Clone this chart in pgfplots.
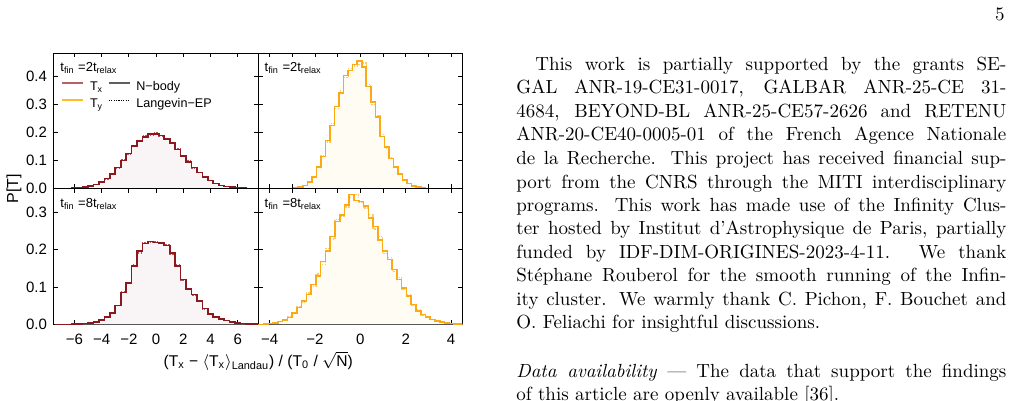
\documentclass[border=0pt]{standalone}
\usepackage{fontspec}
\usepackage{pgfplots}
\usepackage{pgfplotstable}
\pgfplotsset{compat=1.18}
\newfontfamily\hv{Liberation Sans}

% line and fill colours of the two components
\definecolor{txline}{RGB}{139,24,28}
\definecolor{txdot}{RGB}{185,80,85}
\definecolor{txfill}{RGB}{249,245,247}
\definecolor{tyline}{RGB}{252,170,20}
\definecolor{tydot}{RGB}{255,200,110}
\definecolor{tyfill}{RGB}{255,252,244}
\definecolor{txkey}{RGB}{178,100,100}
\definecolor{tykey}{RGB}{255,188,40}
\definecolor{nbkey}{RGB}{95,95,95}

% histograms: left bin edge, N-body density, Langevin-EP density
\pgfplotstableread{
x nb le
-7.4 0 0
-6.6 0.0008 0.0010
-6.2 0.0015 0.0012
-5.8 0.0030 0.0034
-5.4 0.0050 0.0046
-5.0 0.0090 0.0095
-4.6 0.0150 0.0142
-4.2 0.0240 0.0252
-3.8 0.0360 0.0345
-3.4 0.0530 0.0548
-3.0 0.0750 0.0731
-2.6 0.1010 0.1036
-2.2 0.1260 0.1228
-1.8 0.1520 0.1552
-1.4 0.1700 0.1672
-1.0 0.1850 0.1880
-0.6 0.1940 0.1915
-0.2 0.1955 0.1985
0.2 0.1900 0.1870
0.6 0.1780 0.1802
1.0 0.1630 0.1605
1.4 0.1400 0.1428
1.8 0.1170 0.1146
2.2 0.0960 0.0985
2.6 0.0750 0.0733
3.0 0.0570 0.0586
3.4 0.0410 0.0398
3.8 0.0290 0.0302
4.2 0.0190 0.0183
4.6 0.0120 0.0126
5.0 0.0080 0.0075
5.4 0.0050 0.0053
5.8 0.0030 0.0027
6.2 0.0015 0.0017
6.6 0.0008 0.0009
7.4 0 0
}\tabTL

\pgfplotstableread{
x nb le
-7.4 0 0
-6.6 0.0000 0.0000
-6.2 0.0005 0.0004
-5.8 0.0010 0.0012
-5.4 0.0020 0.0017
-5.0 0.0030 0.0034
-4.6 0.0060 0.0055
-4.2 0.0120 0.0128
-3.8 0.0190 0.0182
-3.4 0.0310 0.0322
-3.0 0.0510 0.0495
-2.6 0.0850 0.0875
-2.2 0.1110 0.1085
-1.8 0.1560 0.1602
-1.4 0.1960 0.1915
-1.0 0.2170 0.2195
-0.6 0.2220 0.2205
-0.2 0.2200 0.2230
0.2 0.2190 0.2160
0.6 0.2120 0.2150
1.0 0.1920 0.1885
1.4 0.1560 0.1605
1.8 0.1200 0.1175
2.2 0.0940 0.0968
2.6 0.0800 0.0772
3.0 0.0620 0.0645
3.4 0.0420 0.0405
3.8 0.0270 0.0285
4.2 0.0200 0.0190
4.6 0.0140 0.0148
5.0 0.0100 0.0094
5.4 0.0060 0.0064
5.8 0.0040 0.0037
6.2 0.0020 0.0022
6.6 0.0010 0.0011
7.4 0 0
}\tabBL

\pgfplotstableread{
x nb le
-4.5 0 0
-3.34 0.0000 0.0000
-3.14 0.0010 0.0012
-2.94 0.0030 0.0026
-2.74 0.0060 0.0068
-2.54 0.0120 0.0110
-2.34 0.0240 0.0255
-2.14 0.0410 0.0392
-1.94 0.0770 0.0742
-1.74 0.1150 0.1195
-1.54 0.1720 0.1660
-1.34 0.2250 0.2310
-1.14 0.2930 0.2860
-0.94 0.3400 0.3480
-0.74 0.4030 0.3950
-0.54 0.4210 0.4290
-0.34 0.4420 0.4370
-0.14 0.4540 0.4420
0.06 0.4330 0.4480
0.26 0.3640 0.3720
0.46 0.3080 0.3010
0.66 0.2550 0.2620
0.86 0.1860 0.1920
1.06 0.1480 0.1430
1.26 0.1070 0.1110
1.46 0.0770 0.0745
1.66 0.0530 0.0555
1.86 0.0300 0.0315
2.06 0.0180 0.0172
2.26 0.0090 0.0098
2.46 0.0050 0.0046
2.66 0.0030 0.0032
2.86 0.0010 0.0012
3.06 0.0005 0.0004
3.26 0.0000 0.0000
4.5 0 0
}\tabTR

\pgfplotstableread{
x nb le
-4.5 0 0
-4.27 0.001 0.001
-4.06 0.002 0.002
-3.85 0.004 0.003
-3.64 0.007 0.008
-3.43 0.011 0.010
-3.22 0.018 0.020
-3.01 0.031 0.028
-2.80 0.045 0.048
-2.59 0.062 0.058
-2.38 0.080 0.084
-2.17 0.107 0.102
-1.96 0.129 0.135
-1.75 0.169 0.160
-1.54 0.196 0.203
-1.33 0.236 0.229
-1.12 0.276 0.281
-0.91 0.294 0.290
-0.70 0.321 0.315
-0.49 0.348 0.340
-0.28 0.332 0.348
-0.07 0.330 0.326
0.14 0.318 0.312
0.35 0.285 0.294
0.56 0.263 0.256
0.77 0.227 0.236
0.98 0.196 0.190
1.19 0.174 0.179
1.40 0.147 0.141
1.61 0.120 0.126
1.82 0.098 0.093
2.03 0.076 0.080
2.24 0.053 0.050
2.45 0.036 0.039
2.66 0.026 0.024
2.87 0.019 0.020
3.08 0.013 0.012
3.29 0.009 0.010
3.50 0.006 0.005
3.71 0.004 0.004
3.92 0.002 0.003
4.13 0.001 0.001
4.34 0.0005 0.0005
4.5 0 0
}\tabBR

\pgfplotsset{
  panel/.style={
    scale only axis, width=102.1pt, height=67.8pt, anchor=north west,
    axis line style={line width=0.5pt, black},
    tick align=inside, major tick length=2.2pt,
    tick style={line width=0.5pt, black},
    ticklabel style={font=\hv\fontsize{7.5}{9}\selectfont},
    xticklabel style={yshift=-1.5pt},
    ymin=0,
  },
  leftx/.style={xmin=-7.5, xmax=7.5, xtick={-6,-4,-2,0,2,4,6}},
  rightx/.style={xmin=-4.5, xmax=4.5, xtick={-4,-3,-2,-1,0,1,2,3,4}},
  toprow/.style={ymax=0.483, ytick={0,0.1,0.2,0.3,0.4}},
  botrow/.style={ymax=0.364, ytick={0,0.1,0.2,0.3}},
}
\tikzset{
  paneltag/.style={anchor=base west, font=\hv\fontsize{6.5}{8}\selectfont, inner sep=0pt, xshift=3pt, yshift=-9.2pt},
}

% one panel: fill under the N-body histogram, Langevin-EP dotted, N-body solid
\newcommand\histpanel[4]{%
  \addplot[const plot, fill=#2, draw=none, forget plot] table[x=x, y=nb] {#1} \closedcycle;
  \addplot[const plot, draw=#3, line width=0.6pt, dash pattern=on 0.7pt off 0.7pt, forget plot] table[x=x, y=le] {#1};
  \addplot[const plot, draw=#4, line width=0.8pt, forget plot] table[x=x, y=nb] {#1};
}

\begin{document}
\begin{tikzpicture}
\useasboundingbox (0,0) rectangle (506pt,-200.5pt);
\clip (0,0) rectangle (506pt,-200.5pt);

% top left: T_x, t_fin = 2 t_relax
\begin{axis}[panel, leftx, toprow, at={(27pt,-26.55pt)},
  xticklabels={}, yticklabels={0.0,0.1,0.2,0.3,0.4},
  legend columns=2, legend cell align=left,
  legend image code/.code={\draw[#1] (0pt,2.2pt) -- (10.5pt,2.2pt);},
  legend style={at={(0,1)}, anchor=north west, xshift=3.5pt, yshift=-13.8pt,
    draw=none, fill=none, inner sep=0pt, row sep=2.7pt,
    font=\hv\fontsize{6.3}{7.5}\selectfont,
    nodes={inner sep=0pt, text height=4.6pt, text depth=1.4pt},
    /tikz/every odd column/.append style={column sep=2.8pt},
    /tikz/every even column/.append style={column sep=0.9pt}}]
\histpanel{\tabTL}{txfill}{txdot}{txline}
\node[paneltag] at (rel axis cs:0,1) {t\textsubscript{fin} =2t\textsubscript{relax}};
\addlegendimage{txkey, line width=1pt}
\addlegendentry{\makebox[8pt][l]{T\textsubscript{x}}}
\addlegendimage{nbkey, line width=1pt}
\addlegendentry{N−body}
\addlegendimage{tykey, line width=1pt}
\addlegendentry{\makebox[8pt][l]{T\textsubscript{y}}}
\addlegendimage{black, line width=0.5pt, dash pattern=on 0.6pt off 0.6pt}
\addlegendentry{Langevin−EP}
\end{axis}

% top right: T_y, t_fin = 2 t_relax
\begin{axis}[panel, rightx, toprow, at={(129.15pt,-26.55pt)},
  xticklabels={}, yticklabels={}]
\histpanel{\tabTR}{tyfill}{tydot}{tyline}
\node[paneltag] at (rel axis cs:0,1) {t\textsubscript{fin} =2t\textsubscript{relax}};
\end{axis}

% bottom left: T_x, t_fin = 8 t_relax
\begin{axis}[panel, leftx, botrow, at={(27pt,-94.35pt)},
  xticklabels={−6,−4,−2,0,2,4,6}, yticklabels={0.0,0.1,0.2,0.3}]
\histpanel{\tabBL}{txfill}{txdot}{txline}
\node[paneltag] at (rel axis cs:0,1) {t\textsubscript{fin} =8t\textsubscript{relax}};
\end{axis}

% bottom right: T_y, t_fin = 8 t_relax
\begin{axis}[panel, rightx, botrow, at={(129.15pt,-94.35pt)},
  xticklabels={−4,,−2,,0,,2,,4}, yticklabels={}]
\histpanel{\tabBR}{tyfill}{tydot}{tyline}
\node[paneltag] at (rel axis cs:0,1) {t\textsubscript{fin} =8t\textsubscript{relax}};
\end{axis}

% shared axis titles
\node[rotate=90, font=\hv\fontsize{8}{9.5}\selectfont, inner sep=0pt] at (7pt,-94.3pt) {P[T]};
\node[anchor=base, font=\hv\fontsize{7.8}{9.5}\selectfont, inner sep=0pt] at (129.1pt,-183.3pt)
  {(T\textsubscript{x} − \ensuremath{\langle}T\textsubscript{x}\ensuremath{\rangle}\textsubscript{Landau}) / (T\textsubscript{0} / \ensuremath{\sqrt{\mbox{N}}})};

% page number and the text column
\node[anchor=base east, inner sep=0pt, font=\fontsize{9.5}{11.5}\selectfont] at (502.5pt,-10.2pt) {5};

\node[anchor=base west, inner sep=0pt] at (258pt,-35.25pt) {%
\begin{minipage}[t]{245pt}
\fontsize{9.5}{11.75}\selectfont
\setlength{\parindent}{0pt}\setlength{\parskip}{0pt}%
\makebox[\linewidth][s]{\hspace*{9.5pt}This work is partially supported by the grants SE-}\par
\makebox[\linewidth][s]{GAL ANR-19-CE31-0017, GALBAR ANR-25-CE 31-}\par
\makebox[\linewidth][s]{4684, BEYOND-BL ANR-25-CE57-2626 and RETENU}\par
\makebox[\linewidth][s]{ANR-20-CE40-0005-01 of the French Agence Nationale}\par
\makebox[\linewidth][s]{de la Recherche. This project has received financial sup-}\par
\makebox[\linewidth][s]{port from the CNRS through the MITI interdisciplinary}\par
\makebox[\linewidth][s]{programs. This work has made use of the Infinity Clus-}\par
\makebox[\linewidth][s]{ter hosted by Institut d'Astrophysique de Paris, partially}\par
\makebox[\linewidth][s]{funded by IDF-DIM-ORIGINES-2023-4-11. We thank}\par
\makebox[\linewidth][s]{Stéphane Rouberol for the smooth running of the Infin-}\par
\makebox[\linewidth][s]{ity cluster. We warmly thank C. Pichon, F. Bouchet and}\par
O. Feliachi for insightful discussions.\par
\end{minipage}};

\node[anchor=base west, inner sep=0pt] at (258pt,-188.75pt) {%
\begin{minipage}[t]{245pt}
\fontsize{9.5}{11.5}\selectfont
\setlength{\parindent}{0pt}\setlength{\parskip}{0pt}%
\makebox[\linewidth][s]{\textit{Data availability} --- The data that support the findings}\par
of this article are openly available [36].\par
\end{minipage}};
\end{tikzpicture}
\end{document}
